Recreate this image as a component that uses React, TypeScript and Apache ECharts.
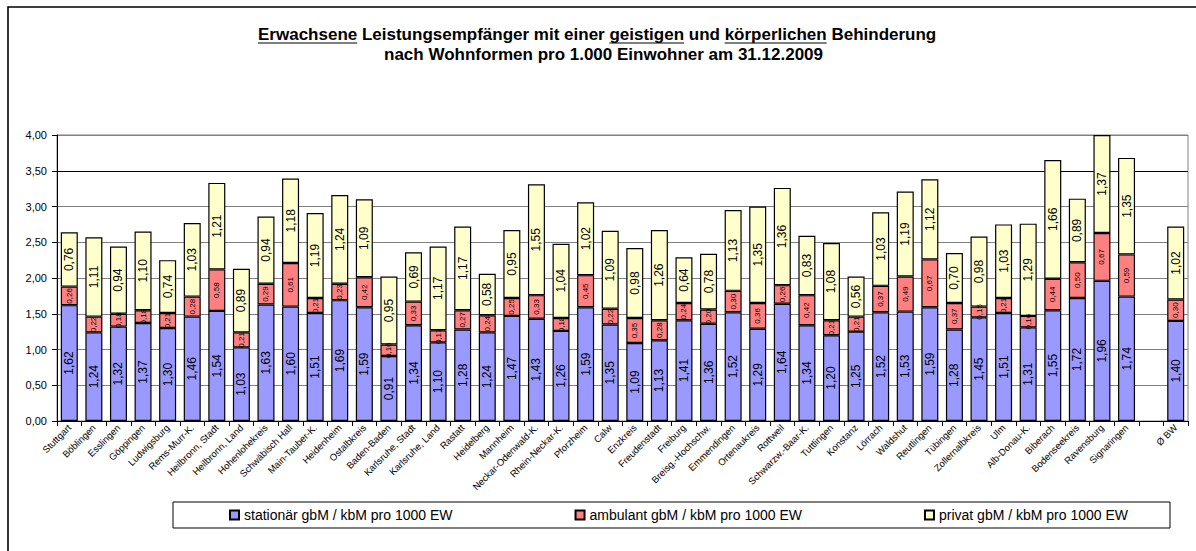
import React, { useEffect, useRef } from 'react';
import * as echarts from 'echarts';

const categories = [
  'Stuttgart', 'Böblingen', 'Esslingen', 'Göppingen', 'Ludwigsburg', 'Rems-Murr-K.',
  'Heilbronn, Stadt', 'Heilbronn, Land', 'Hohenlohekreis', 'Schwäbisch Hall', 'Main-Tauber-K.',
  'Heidenheim', 'Ostalbkreis', 'Baden-Baden', 'Karlsruhe, Stadt', 'Karlsruhe, Land', 'Rastatt',
  'Heidelberg', 'Mannheim', 'Neckar-Odenwald-K.', 'Rhein-Neckar-K.', 'Pforzheim', 'Calw',
  'Enzkreis', 'Freudenstadt', 'Freiburg', 'Breisg.-Hochschw.', 'Emmendingen', 'Ortenaukreis',
  'Rottweil', 'Schwarzw.-Baar-K.', 'Tuttlingen', 'Konstanz', 'Lörrach', 'Waldshut', 'Reutlingen',
  'Tübingen', 'Zollernalbkreis', 'Ulm', 'Alb-Donau-K.', 'Biberach', 'Bodenseekreis', 'Ravensburg',
  'Signaringen', '', 'Ø BW',
];

const stationaer = [
  1.62, 1.24, 1.32, 1.37, 1.30, 1.46, 1.54, 1.03, 1.63, 1.60, 1.51, 1.69, 1.59, 0.91, 1.34, 1.10,
  1.28, 1.24, 1.47, 1.43, 1.26, 1.59, 1.35, 1.09, 1.13, 1.41, 1.36, 1.52, 1.29, 1.64, 1.34, 1.20,
  1.25, 1.52, 1.53, 1.59, 1.28, 1.45, 1.51, 1.31, 1.55, 1.72, 1.96, 1.74, null, 1.40,
];

const ambulant = [
  0.26, 0.22, 0.18, 0.18, 0.21, 0.28, 0.58, 0.21, 0.29, 0.61, 0.21, 0.23, 0.42, 0.16, 0.33, 0.17,
  0.27, 0.24, 0.25, 0.33, 0.18, 0.45, 0.22, 0.35, 0.28, 0.24, 0.20, 0.30, 0.36, 0.26, 0.42, 0.21,
  0.21, 0.37, 0.49, 0.67, 0.37, 0.15, 0.21, 0.16, 0.44, 0.50, 0.67, 0.59, null, 0.30,
];

const privat = [
  0.76, 1.11, 0.94, 1.10, 0.74, 1.03, 1.21, 0.89, 0.94, 1.18, 1.19, 1.24, 1.09, 0.95, 0.69, 1.17,
  1.17, 0.58, 0.95, 1.55, 1.04, 1.02, 1.09, 0.98, 1.26, 0.64, 0.78, 1.13, 1.35, 1.36, 0.83, 1.08,
  0.56, 1.03, 1.19, 1.12, 0.70, 0.98, 1.03, 1.29, 1.66, 0.89, 1.37, 1.35, null, 1.02,
];

const seriesNames = [
  'stationär gbM / kbM pro 1000 EW',
  'ambulant gbM / kbM pro 1000 EW',
  'privat gbM / kbM pro 1000 EW',
];

const titleLine1 = 'Erwachsene Leistungsempfänger mit einer geistigen und körperlichen Behinderung';
const titleLine2 = 'nach Wohnformen pro 1.000 Einwohner am 31.12.2009';
const underlined = ['Erwachsene', 'geistigen', 'körperlichen'];

const FONT = '"Liberation Sans", Arial, sans-serif';
const fmt = (v: number) => v.toFixed(2).replace('.', ',');

export default function App() {
  const ref = useRef<HTMLDivElement>(null);

  useEffect(() => {
    document.body.style.margin = '0';
    if (!ref.current) return;
    const chart = echarts.init(ref.current, null, { renderer: 'svg' });

    const titleFont = `bold 17px ${FONT}`;
    const canvas = document.createElement('canvas');
    const ctx = canvas.getContext('2d')!;
    ctx.font = titleFont;
    const mw = (s: string) => ctx.measureText(s).width;

    const t1x = 258;
    const t2x = 384;
    const underlineY = 43;
    const underlineEls: any[] = [];
    let searchFrom = 0;
    underlined.forEach((word) => {
      const idx = titleLine1.indexOf(word, searchFrom);
      searchFrom = idx + word.length;
      const x1 = t1x + mw(titleLine1.slice(0, idx));
      const x2 = x1 + mw(word);
      underlineEls.push({
        type: 'line',
        shape: { x1, y1: underlineY, x2, y2: underlineY },
        style: { stroke: '#000', lineWidth: 1.2 },
        silent: true,
        z: 10,
      });
    });

    const labelFor = (size: number) => ({
      show: true,
      position: 'inside',
      rotate: 90,
      fontSize: size,
      fontFamily: FONT,
      color: '#000',
      formatter: (p: any) => (p.value == null || p.value === '' ? '' : fmt(Number(p.value))),
    });

    const colors = ['#9999FF', '#FF8080', '#FFFFCC'];
    const data = [stationaer, ambulant, privat];
    const labelSizes = [12, 8, 12];

    chart.setOption({
      animation: false,
      backgroundColor: '#fff',
      grid: {
        left: 57,
        right: 8,
        top: 135,
        bottom: 130,
        show: true,
        borderColor: '#808080',
        borderWidth: 1,
        backgroundColor: 'transparent',
        containLabel: false,
      },
      legend: {
        left: 229,
        top: 507,
        padding: 0,
        itemWidth: 9,
        itemHeight: 9,
        itemGap: 122,
        icon: 'rect',
        textStyle: { fontSize: 14, fontFamily: FONT, color: '#000', lineHeight: 16 },
        data: seriesNames,
      },
      xAxis: {
        type: 'category',
        data: categories,
        axisLine: { lineStyle: { color: '#000', width: 1 } },
        axisTick: { show: true, length: 5, lineStyle: { color: '#000' } },
        axisLabel: {
          interval: 0,
          rotate: 45,
          margin: 5,
          fontSize: 9.5,
          fontFamily: FONT,
          color: '#000',
        },
        splitLine: { show: false },
      },
      yAxis: {
        type: 'value',
        min: 0,
        max: 4,
        interval: 0.5,
        axisLine: { show: true, lineStyle: { color: '#000', width: 1 } },
        axisTick: { show: true, length: 5, lineStyle: { color: '#000' } },
        axisLabel: {
          margin: 10,
          fontSize: 11,
          fontFamily: FONT,
          color: '#000',
          formatter: (v: number) => fmt(v),
        },
        splitLine: {
          show: true,
          lineStyle: {
            color: ['#808080', '#808080', '#808080', '#808080', '#808080', '#808080', '#808080', '#000000', '#808080'],
            width: 1,
          },
        },
      },
      series: seriesNames.map((name, i) => ({
        name,
        type: 'bar',
        stack: 'total',
        barWidth: 17,
        data: data[i],
        itemStyle: { color: colors[i], borderColor: '#000', borderWidth: 1.2 },
        label: labelFor(labelSizes[i]),
        emphasis: { disabled: true },
      })),
      graphic: [
        {
          type: 'rect',
          shape: { x: 8, y: 7, width: 1200, height: 600 },
          style: { fill: 'none', stroke: '#000', lineWidth: 1.6 },
          silent: true,
          z: -10,
        },
        {
          type: 'rect',
          shape: { x: 173, y: 502, width: 997, height: 26 },
          style: { fill: '#fff', stroke: '#000', lineWidth: 1 },
          silent: true,
          z: -5,
        },
        {
          type: 'text',
          x: t1x,
          y: 34,
          style: {
            text: titleLine1,
            font: titleFont,
            fill: '#000',
            textAlign: 'left',
            textVerticalAlign: 'middle',
          },
          silent: true,
          z: 10,
        },
        {
          type: 'text',
          x: t2x,
          y: 54.5,
          style: {
            text: titleLine2,
            font: titleFont,
            fill: '#000',
            textAlign: 'left',
            textVerticalAlign: 'middle',
          },
          silent: true,
          z: 10,
        },
        ...underlineEls,
      ],
    });

    return () => chart.dispose();
  }, []);

  return <div ref={ref} style={{ width: 1196, height: 551 }} />;
}
